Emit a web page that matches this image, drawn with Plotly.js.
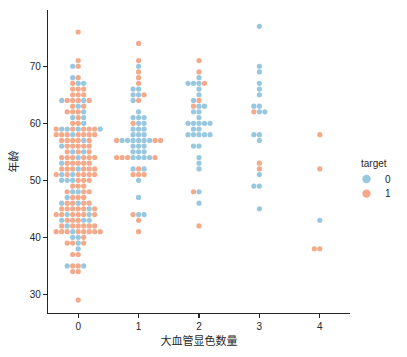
<!DOCTYPE html>
<html><head><meta charset="utf-8">
<script src="https://cdn.plot.ly/plotly-3.0.1.min.js"></script>
<style>html,body{margin:0;padding:0;background:#fff}#chart{width:407px;height:357px}</style>
</head><body><div id="chart"></div>
<script>
// categories (number of major vessels) and tick labels
const categories = [0, 1, 2, 3, 4];
const tickLabels = ['0', '1', '2', '3', '4'];
const yTicks = [30, 40, 50, 60, 70];
const hueLevels = ['0', '1'];
const hueColors = ['#98c8e0', '#f4a98a'];
const legendTitle = 'target';

// For each category: ages (one per row of dots) and the target of each dot in that row, left to right
const ca0_age = [76,71,70,68,67,66,65,64,63,62,61,60,59,58,57,56,55,54,53,52,51,50,49,48,47,46,45,44,43,42,41,40,39,38,37,35,34,29];
const ca0_hue = ['1','1','01','01','100','111','111','011101','101','1110','010','110','100101110','11101111','111101','011111','10101','1110111','011111','1110111','10101111','000111','111','10011','0111','011011','1111101','11011101','011100','1011111','111011111','001','1101','0','11','0110','11','1'];

const ca1_age = [74,71,70,69,68,67,66,65,64,62,61,60,59,58,57,56,55,54,52,51,50,47,44,43,41];
const ca1_hue = ['1','1','0','1','1','1','00','001','01','0','000','100','000','000','100000011','000','000','11100001','010','111','0','0','100','1','1'];

const ca2_age = [71,69,68,67,66,65,64,63,62,61,60,59,58,56,54,53,52,48,46,42];
const ca2_hue = ['1','1','0','0001','0','0','01','100','00','0','00000','00','00000','00','0','0','0','10','0','1'];

const ca3_age = [77,70,69,67,66,65,63,62,58,57,53,52,51,49,45];
const ca3_hue = ['0','0','0','0','0','0','00','100','00','0','1','1','0','00','0'];

const ca4_age = [58,52,43,38];
const ca4_hue = ['1','1','0','11'];

const ageRows = [ca0_age, ca1_age, ca2_age, ca3_age, ca4_age];
const hueRows = [ca0_hue, ca1_hue, ca2_hue, ca3_hue, ca4_hue];

// layout geometry
const W = 407, H = 357;
const margin = {l: 48, r: 57, t: 10, b: 44};
const plotW = W - margin.l - margin.r;
const plotH = H - margin.t - margin.b;
const pxPerCat = plotW / categories.length;
const dotGapPx = 5.5;               // swarm spacing between dot centres
const step = dotGapPx / pxPerCat;   // in data units

// swarm layout: dots of the same row placed side by side, centred on the category
const pts = {'0': {x: [], y: []}, '1': {x: [], y: []}};
categories.forEach((c, ci) => {
  ageRows[ci].forEach((age, ri) => {
    const row = hueRows[ci][ri];
    const n = row.length;
    for (let k = 0; k < n; k++) {
      const off = (k - Math.floor(n / 2)) * step;
      pts[row[k]].x.push(c + off);
      pts[row[k]].y.push(age);
    }
  });
});

const traces = hueLevels.map((h, i) => ({
  type: 'scatter', mode: 'markers', x: pts[h].x, y: pts[h].y, name: h,
  marker: {size: 5.2, color: hueColors[i], line: {width: 0}},
  showlegend: false, hoverinfo: 'skip'}));

// legend drawn in paper coordinates (outside the plot, right side)
const px2x = px => (px - margin.l) / plotW;
const px2y = py => (H - margin.b - py) / plotH;
const txt = '#262626';
const font10 = {family: 'Liberation Sans, Arial, sans-serif', size: 10, color: txt};
const shapes = [];
const annotations = [{xref: 'paper', yref: 'paper', x: px2x(359), y: px2y(164), xanchor: 'left', yanchor: 'middle',
  text: legendTitle, showarrow: false, font: font10}];
hueLevels.forEach((h, i) => {
  const yy = px2y(179 + i * 14.6);
  shapes.push({type: 'circle', xref: 'paper', yref: 'paper', xsizemode: 'pixel', ysizemode: 'pixel',
    xanchor: px2x(366.5), yanchor: yy, x0: -4.2, x1: 4.2, y0: -4.2, y1: 4.2,
    fillcolor: hueColors[i], line: {width: 0}});
  annotations.push({xref: 'paper', yref: 'paper', x: px2x(383), y: yy, xanchor: 'left', yanchor: 'middle',
    text: h, showarrow: false, font: font10});
});

const axisCommon = {showline: true, linecolor: txt, linewidth: 1.1, ticks: 'outside', ticklen: 4,
  tickwidth: 1.1, tickcolor: txt, showgrid: false, zeroline: false, automargin: false,
  tickfont: font10};

const layout = {
  width: W, height: H, margin: margin,
  paper_bgcolor: '#fff', plot_bgcolor: '#fff',
  xaxis: Object.assign({}, axisCommon, {range: [-0.5, 4.5], tickmode: 'array', tickvals: categories, ticktext: tickLabels,
    title: {text: '大血管显色数量', font: {family: 'Noto Sans CJK SC, sans-serif', size: 11, color: txt}, standoff: 6}}),
  yaxis: Object.assign({}, axisCommon, {range: [26.74, 79.86], tickmode: 'array', tickvals: yTicks,
    title: {text: '年龄', font: {family: 'Noto Sans CJK SC, sans-serif', size: 11, color: txt}, standoff: 8}}),
  shapes: shapes, annotations: annotations,
  showlegend: false
};

Plotly.newPlot('chart', traces, layout, {displayModeBar: false, staticPlot: true});
</script>
</body></html>
